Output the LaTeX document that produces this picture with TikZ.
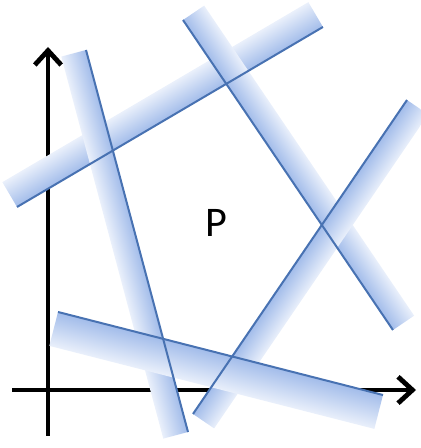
\documentclass[tikz,border=0pt]{standalone}
\usepackage{fontspec}
\setmainfont{Carlito}
\usetikzlibrary{arrows.meta}
\definecolor{bandblue}{RGB}{162,188,234}
\definecolor{bandlight}{RGB}{234,240,251}
\definecolor{edgeblue}{RGB}{72,114,178}
\tikzset{
  axis/.style={line width=0.12cm, ->},
  band/.style={bottom color=bandblue, top color=bandlight},
  edgeline/.style={edgeblue, line width=0.05cm}
}
\begin{document}
\begin{tikzpicture}[>={Straight Barb[length=3.6mm,width=6.6mm]}]
 \useasboundingbox (0,0) rectangle (10.5,11.2);
 % axes
 \coordinate (xstart) at (0.3,1.45);
 \coordinate (xend) at (10.4,1.45);
 \coordinate (ystart) at (1.2,0.3);
 \coordinate (yend) at (1.2,10.025);
 \draw[axis] (xstart) -- (xend);
 \draw[axis] (ystart) -- (yend);
 % half-planes: x / y / angle / length / width
 \foreach \x/\y/\a/\l/\w in {0.425/6.025/30.47/8.875/0.72,
   4.7/0.4/104.95/9.885/0.64, 4.575/10.7/-55.89/9.361/0.64,
   10.175/8.7/-124.28/9.5/0.64, 9.575/1.325/165.67/8.386/0.875}
 {
   \begin{scope}[transform canvas={shift={(\x,\y)}, rotate=\a}]
     \shade[band] (0,0) rectangle (\l,\w);
   \end{scope}
 }
 \foreach \x/\y/\a/\l in {0.425/6.025/30.47/8.875, 4.7/0.4/104.95/9.885,
   4.575/10.7/-55.89/9.361, 10.175/8.7/-124.28/9.5, 9.575/1.325/165.67/8.386}
   \draw[edgeline, shift={(\x,\y)}, rotate=\a] (0,0) -- (\l,0);
 \node[font=\fontsize{30}{30}\selectfont] (p) at (5.4,5.63) {P};
\end{tikzpicture}
\end{document}
